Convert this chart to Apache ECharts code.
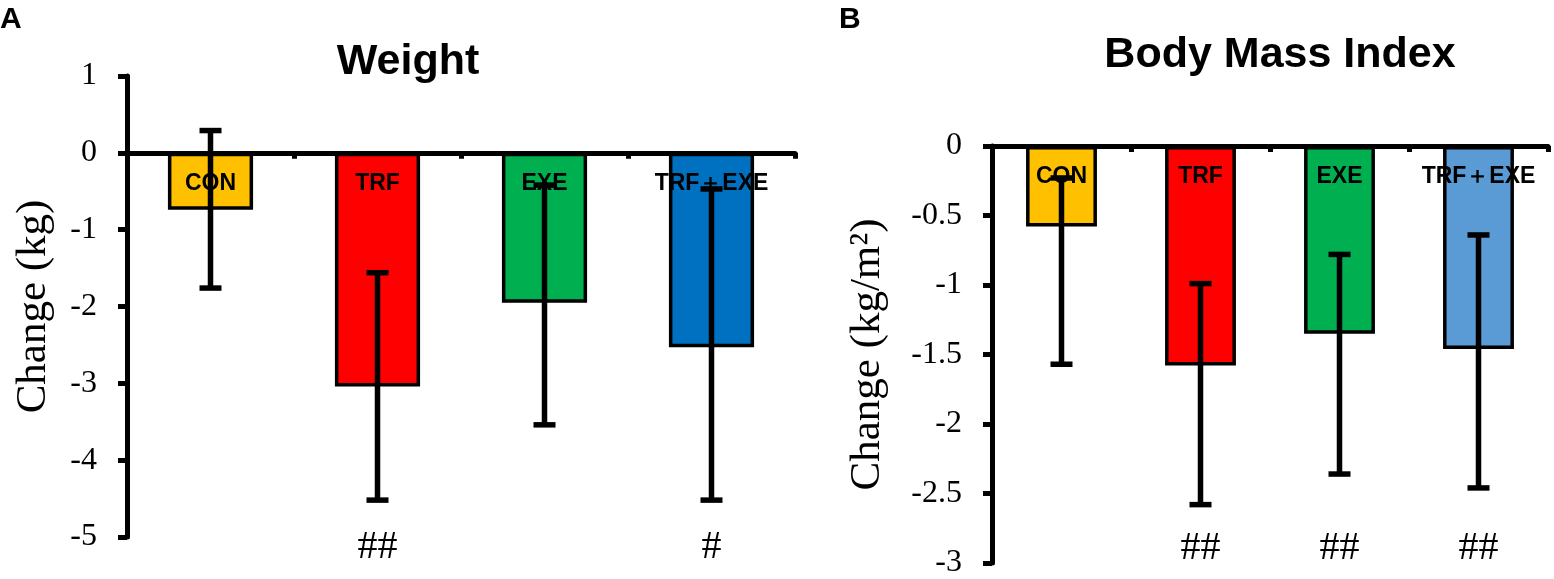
<!DOCTYPE html>
<html>
<head>
<meta charset="utf-8">
<script src="https://cdn.jsdelivr.net/npm/echarts@6/dist/echarts.min.js"></script>
<style>html,body{margin:0;padding:0;background:#fff}#c{width:1554px;height:579px}</style>
</head>
<body>
<div id="c"></div>
<script>
const categories = ['CON', 'TRF', 'EXE', 'TRF＋EXE'];
const colorsA = ['#FFC000', '#FF0000', '#00B050', '#0070C0'];
const colorsB = ['#FFC000', '#FF0000', '#00B050', '#5B9BD5'];

const weightMean = [-0.74, -3.04, -1.95, -2.53];
const weightLow  = [-1.76, -4.52, -3.54, -4.52];
const weightHigh = [0.29, -1.56, -0.42, -0.47];
const weightSig  = ['', '##', '', '#'];

const bmiMean = [-0.58, -1.58, -1.35, -1.46];
const bmiLow  = [-1.57, -2.58, -2.36, -2.46];
const bmiHigh = [-0.23, -0.99, -0.78, -0.64];
const bmiSig  = ['', '##', '##', '##'];

const SERIF = "'Liberation Serif','Times New Roman',serif";
const SANS = "'Liberation Sans',Arial,sans-serif";

const chart = echarts.init(document.getElementById('c'));

function errRender(params, api) {
  const x = api.value(0);
  const lo = api.coord([x, api.value(1)]);
  const hi = api.coord([x, api.value(2)]);
  const cap = 11;
  const st = {stroke: '#000', lineWidth: 5.5};
  return {
    type: 'group',
    children: [
      {type: 'line', shape: {x1: lo[0], y1: lo[1], x2: hi[0], y2: hi[1]}, style: st},
      {type: 'line', shape: {x1: lo[0]-cap, y1: lo[1], x2: lo[0]+cap, y2: lo[1]}, style: st},
      {type: 'line', shape: {x1: hi[0]-cap, y1: hi[1], x2: hi[0]+cap, y2: hi[1]}, style: st}
    ]
  };
}

function xMain(gi) {
  return {
    type: 'category', gridIndex: gi, data: categories, position: 'bottom',
    axisLine: {onZero: true, lineStyle: {color: '#000', width: 5}},
    axisTick: {show: true, length: 6, lineStyle: {color: '#000', width: 5}},
    axisLabel: {show: false}, splitLine: {show: false}
  };
}
function xSig(gi, sig, margin) {
  return {
    type: 'category', gridIndex: gi, data: sig, position: 'bottom',
    axisLine: {show: false, onZero: false}, axisTick: {show: false},
    axisLabel: {show: true, margin: margin, verticalAlign: 'middle', color: '#000', fontSize: 40, fontFamily: SERIF},
    splitLine: {show: false}
  };
}
function yAx(gi, min, max, interval, name, gap) {
  return {
    type: 'value', gridIndex: gi, min: min, max: max, interval: interval,
    name: name, nameLocation: 'middle', nameGap: gap, nameRotate: 90,
    nameTextStyle: {color: '#000', fontSize: 43, fontFamily: SERIF},
    axisLine: {show: true, lineStyle: {color: '#000', width: 5}},
    axisTick: {show: true, length: 9, lineStyle: {color: '#000', width: 5}},
    axisLabel: {color: '#000', fontSize: 32, fontFamily: SERIF, margin: 30},
    splitLine: {show: false}
  };
}
function barSeries(gi, mean, colors) {
  return {
    type: 'bar', xAxisIndex: gi * 2, yAxisIndex: gi, barWidth: '51%', z: 2,
    data: mean.map((v, i) => ({value: v, itemStyle: {color: colors[i]}})),
    itemStyle: {borderColor: '#000', borderWidth: 3.5},
    label: {show: true, position: 'insideTop', distance: 19, formatter: '{b}',
      color: '#000', fontSize: 23, fontWeight: 'bold', fontFamily: SANS},
    animation: false
  };
}
function errSeries(gi, low, high) {
  return {
    type: 'custom', xAxisIndex: gi * 2, yAxisIndex: gi, z: 10,
    renderItem: errRender,
    data: low.map((v, i) => [i, v, high[i]]),
    encode: {x: 0, y: [1, 2]},
    animation: false
  };
}

chart.setOption({
  animation: false,
  grid: [
    {left: 127, top: 76, width: 668, height: 461},
    {left: 992, top: 146, width: 556, height: 419}
  ],
  xAxis: [xMain(0), xSig(0, weightSig, 10), xMain(1), xSig(1, bmiSig, -15)],
  yAxis: [
    yAx(0, -5, 1, 1, 'Change (kg)', 72),
    yAx(1, -3, 0, 0.5, 'Change (kg/m²)', 103)
  ],
  series: [
    barSeries(0, weightMean, colorsA),
    errSeries(0, weightLow, weightHigh),
    barSeries(1, bmiMean, colorsB),
    errSeries(1, bmiLow, bmiHigh)
  ],
  graphic: [
    {type: 'text', left: 0, top: 5, style: {text: 'A', font: 'bold 30px ' + SANS, fill: '#000'}},
    {type: 'text', left: 839, top: 5, style: {text: 'B', font: 'bold 30px ' + SANS, fill: '#000'}},
    {type: 'text', x: 408, y: 62, style: {text: 'Weight', font: 'bold 43px ' + SANS, fill: '#000', align: 'center', verticalAlign: 'middle'}},
    {type: 'text', x: 1280, y: 55, style: {text: 'Body Mass Index', font: 'bold 43px ' + SANS, fill: '#000', align: 'center', verticalAlign: 'middle'}}
  ]
});
</script>
</body>
</html>
